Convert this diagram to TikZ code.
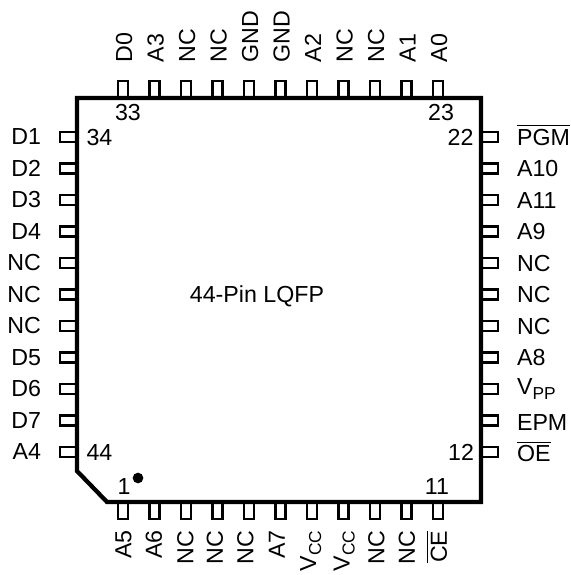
\documentclass[tikz,border=0pt]{standalone}
\usepackage{amsmath}
\usepackage{fontspec}
\setmainfont{Liberation Sans}
\usetikzlibrary{positioning}

\newcommand{\pinsub}[1]{\raisebox{-3.75pt}{\fontsize{13}{13}\selectfont #1}}

\begin{document}
\begin{tikzpicture}[x=0.75pt, y=-0.75pt, thick,
    every node/.style={inner sep=0pt, font=\fontsize{17.4}{20}\selectfont},
    hpin/.style={draw, line width=1.8pt, fill=white, minimum width=12.75pt, minimum height=7.6pt},
    vpin/.style={draw, line width=1.8pt, fill=white, minimum width=7.6pt, minimum height=12.75pt}]
        \useasboundingbox (0,0) rectangle (571,575);

        % pins and their labels
        \foreach \pinname [count=\i from 0] in {D1,D2,D3,D4,NC,NC,NC,D5,D6,D7,A4} {
            \node[hpin] (L\i) at (68.5,137+31.5*\i) {};
            \node[anchor=base east] (Ltxt\i) at (41.5,144.7+31.5*\i) {\pinname};
        }
        \foreach \pinname/\dy [count=\i from 0] in {$\overline{\text{PGM}}$/8,A10/8,A11/8,A9/8,NC/8,NC/8,NC/8,A8/8,V\pinsub{PP}/5.5,EPM/10,$\overline{\text{OE}}$/9.5} {
            \node[hpin] (R\i) at (489.5,137+31.5*\i) {};
            \node[anchor=base west] (Rtxt\i) at (516.5,137+31.5*\i+\dy) {\pinname};
        }
        \foreach \pinname [count=\i from 0] in {D0,A3,NC,NC,GND,GND,A2,NC,NC,A1,A0} {
            \node[vpin] (T\i) at (123+31.5*\i,89.5) {};
            \node[rotate=90, anchor=base west] (Ttxt\i) at (132+31.5*\i,63) {\pinname};
        }
        \foreach \pinname/\dx [count=\i from 0] in {A5/0,A6/-1,NC/-1,NC/-3,NC/-4,A7/-4,V\pinsub{CC}/-4.3,V\pinsub{CC}/-2.3,NC/1,NC/0,$\overline{\text{CE}}$/0.5} {
            \node[vpin] (B\i) at (123+31.5*\i,510.5) {};
            \node[rotate=90, anchor=base east] (Btxt\i) at (131.3+31.5*\i+\dx,530) {\pinname};
        }

        % package outline
        \draw[line width=3.2pt] (77,98) -- (481,98) -- (481,502) -- (107,502) -- (77,471) -- cycle;

        \node[anchor=base] (title) at (257,302.3) {44-Pin LQFP};
        \node (n33) at (128,113) {33};
        \node (n34) at (99.5,137.5) {34};
        \node (n44) at (99.5,452.5) {44};
        \node (n1) at (124,487) {1};
        \node (n23) at (441,113) {23};
        \node (n22) at (460.5,137.5) {22};
        \node (n12) at (461,452) {12};
        \node (n11) at (437,487) {11};
        \node[circle, fill=black, minimum size=8pt] (dot) at (138,478) {};
    \end{tikzpicture}
\end{document}
